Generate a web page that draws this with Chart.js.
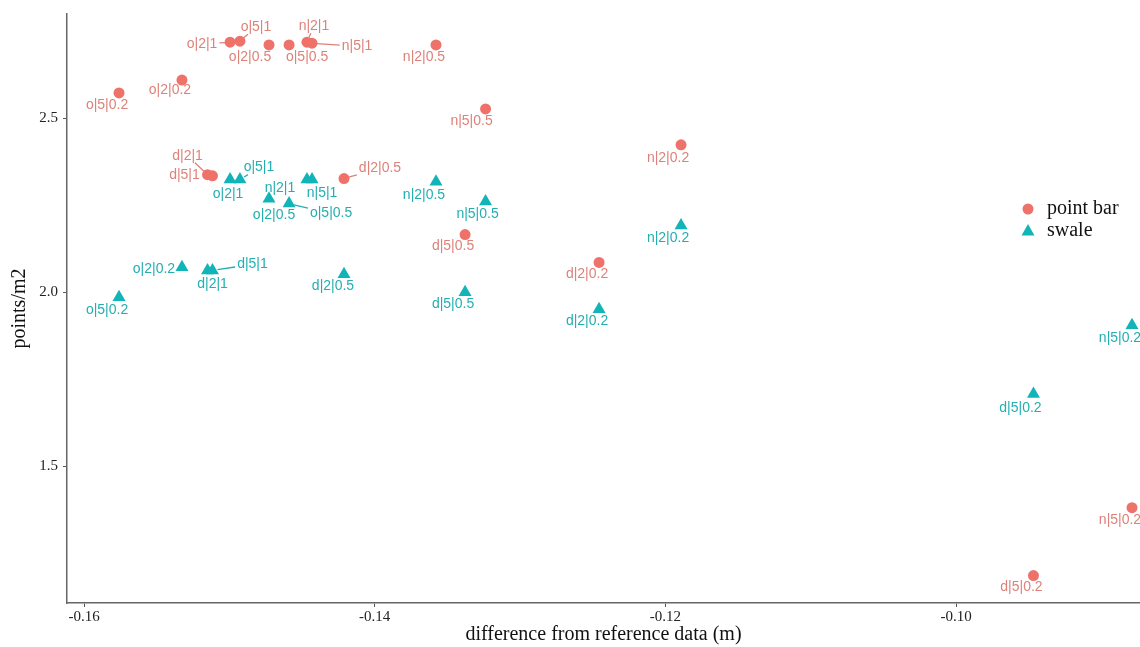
<!DOCTYPE html>
<html>
<head>
<meta charset="utf-8">
<script src="https://cdn.jsdelivr.net/npm/chart.js@4.4.1/dist/chart.umd.min.js"></script>
<style>
  html, body { margin: 0; padding: 0; background: #fff; }
  #wrap { width: 1140px; height: 647px; }
</style>
</head>
<body>
<div id="wrap"><canvas id="scatter" width="1140" height="647"></canvas></div>
<script>
// site | resolution | threshold
var configs = ['o|5|0.2', 'o|2|0.2', 'd|2|1', 'd|5|1', 'o|2|1', 'o|5|1', 'o|2|0.5', 'o|5|0.5', 'n|2|1',
               'n|5|1', 'd|2|0.5', 'n|2|0.5', 'd|5|0.5', 'n|5|0.5', 'd|2|0.2', 'n|2|0.2', 'd|5|0.2', 'n|5|0.2'];
var diffX = [-0.15759, -0.15326, -0.15150, -0.15116, -0.14995, -0.14927, -0.14727, -0.14589, -0.14466,
             -0.14431, -0.14211, -0.13578, -0.13378, -0.13237, -0.12456, -0.11892, -0.09467, -0.08789];
var pointBarY = [2.573, 2.610, 2.338, 2.335, 2.719, 2.722, 2.711, 2.711, 2.719,
                 2.716, 2.327, 2.711, 2.166, 2.527, 2.086, 2.424, 1.186, 1.381];
var swaleY = [1.986, 2.072, 2.063, 2.063, 2.324, 2.324, 2.269, 2.255, 2.324,
              2.324, 2.052, 2.318, 2.000, 2.261, 1.951, 2.192, 1.708, 1.905];
var xTicks = [-0.16, -0.14, -0.12, -0.10];
var yTicks = [1.5, 2.0, 2.5];

// where each text label sits relative to its point (px), third flag = draw a leader line
var pointBarLabelPos = [[-12, 12], [-12, 10], [-20, -19, 1], [-28, -1], [-28, 2, 1], [16, -14, 1], [-19, 12], [18, 12], [7, -16, 1],
                        [45, 3, 1], [36, -10, 1], [-12, 12], [-12, 12], [-14, 12], [-12, 12], [-13, 13], [-12, 12], [-12, 12]];
var swaleLabelPos = [[-12, 13], [-28, 2], [5, 14], [40, -6, 1], [-2, 15], [19, -12, 1], [5, 16], [42, 10, 1], [-27, 9],
                     [10, 14], [-11, 12], [-12, 13], [-12, 12], [-8, 13], [-12, 12], [-13, 13], [-13, 14], [-12, 13]];

function toPoints(xs, ys) {
    return xs.map(function (x, i) { return { x: x, y: ys[i] }; });
}

var serif = '"Liberation Serif", "Times New Roman", serif';

var repelLabels = {
    id: 'repelLabels',
    afterDatasetsDraw: function (chart) {
        var ctx = chart.ctx;
        ctx.save();
        ctx.font = '14px "Liberation Sans", Arial, sans-serif';
        ctx.textAlign = 'center';
        ctx.textBaseline = 'middle';
        chart.data.datasets.forEach(function (ds, di) {
            var meta = chart.getDatasetMeta(di);
            meta.data.forEach(function (el, i) {
                var off = ds.labelPos[i];
                var lx = el.x + off[0], ly = el.y + off[1];
                var text = configs[i];
                if (off[2]) {
                    var w = ctx.measureText(text).width / 2 + 2, h = 7;
                    var dx = lx - el.x, dy = ly - el.y;
                    var t = Math.min(dx !== 0 ? w / Math.abs(dx) : Infinity, dy !== 0 ? h / Math.abs(dy) : Infinity);
                    var len = Math.sqrt(dx * dx + dy * dy);
                    var r = 5;
                    ctx.beginPath();
                    ctx.moveTo(el.x + dx / len * r, el.y + dy / len * r);
                    ctx.lineTo(lx - dx * t, ly - dy * t);
                    ctx.strokeStyle = ds.labelColor;
                    ctx.lineWidth = 1.3;
                    ctx.stroke();
                }
                ctx.fillStyle = ds.labelColor;
                ctx.fillText(text, lx, ly);
            });
        });
        ctx.restore();
    }
};

var sideLegend = {
    id: 'sideLegend',
    afterDraw: function (chart) {
        var ctx = chart.ctx;
        var ds = chart.data.datasets;
        ctx.save();
        ctx.font = '20px ' + serif;
        ctx.textAlign = 'left';
        ctx.textBaseline = 'middle';
        // point bar
        ctx.beginPath();
        ctx.arc(1028, 209, 5.5, 0, Math.PI * 2);
        ctx.fillStyle = ds[0].backgroundColor;
        ctx.fill();
        ctx.fillStyle = '#111';
        ctx.fillText(ds[0].label, 1047, 209);
        // swale
        ctx.beginPath();
        ctx.moveTo(1028, 224);
        ctx.lineTo(1034.5, 235.5);
        ctx.lineTo(1021.5, 235.5);
        ctx.closePath();
        ctx.fillStyle = ds[1].backgroundColor;
        ctx.fill();
        ctx.fillStyle = '#111';
        ctx.fillText(ds[1].label, 1047, 231);
        ctx.restore();
    }
};

new Chart(document.getElementById('scatter'), {
    type: 'scatter',
    data: {
        datasets: [
            {
                label: 'point bar',
                data: toPoints(diffX, pointBarY),
                backgroundColor: '#EF726A',
                borderWidth: 0,
                pointStyle: 'circle',
                pointRadius: 5.5,
                labelColor: '#DE8179',
                labelPos: pointBarLabelPos
            },
            {
                label: 'swale',
                data: toPoints(diffX, swaleY),
                backgroundColor: '#12B4B7',
                borderWidth: 0,
                pointStyle: 'triangle',
                pointRadius: 7.5,
                labelColor: '#23AFB2',
                labelPos: swaleLabelPos
            }
        ]
    },
    options: {
        responsive: false,
        animation: false,
        layout: { autoPadding: false, padding: { top: 12, right: 0, bottom: 0, left: 0 } },
        plugins: {
            legend: { display: false },
            tooltip: { enabled: false }
        },
        scales: {
            x: {
                type: 'linear',
                min: -0.16117,
                max: -0.08734,
                afterBuildTicks: function (scale) {
                    scale.ticks = xTicks.map(function (v) { return { value: v }; });
                },
                afterFit: function (scale) { scale.height = 44; },
                ticks: {
                    font: { family: serif, size: 15 },
                    color: '#222',
                    padding: 1,
                    maxRotation: 0,
                    callback: function (v) { return v.toFixed(2); }
                },
                grid: { drawOnChartArea: false, tickLength: 4, tickColor: '#555', lineWidth: 1 },
                border: { display: true, color: '#666', width: 1.5 },
                title: {
                    display: true,
                    text: 'difference from reference data (m)',
                    font: { family: serif, size: 20 },
                    color: '#111',
                    padding: { top: 0, bottom: 0 }
                }
            },
            y: {
                type: 'linear',
                min: 1.107,
                max: 2.80,
                afterBuildTicks: function (scale) {
                    scale.ticks = yTicks.map(function (v) { return { value: v }; });
                },
                afterFit: function (scale) { scale.width = 67; },
                ticks: {
                    font: { family: serif, size: 15 },
                    color: '#222',
                    padding: 5,
                    callback: function (v) { return v.toFixed(1); }
                },
                grid: { drawOnChartArea: false, tickLength: 4, tickColor: '#555', lineWidth: 1 },
                border: { display: true, color: '#666', width: 1.5 },
                title: {
                    display: true,
                    text: 'points/m2',
                    font: { family: serif, size: 20 },
                    color: '#111',
                    padding: { top: 8, bottom: 0 }
                }
            }
        }
    },
    plugins: [repelLabels, sideLegend]
});
</script>
</body>
</html>
